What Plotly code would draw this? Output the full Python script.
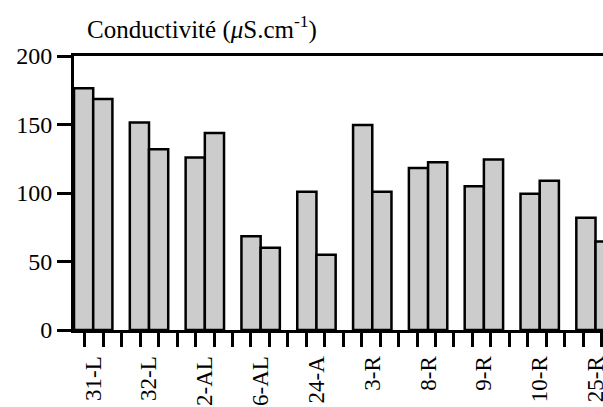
import plotly.graph_objects as go

categories = ["31-L", "32-L", "2-AL", "16-AL", "24-A", "3-R", "8-R", "9-R", "10-R", "25-R"]
series_a = [176.5, 151.5, 126, 68.4, 101, 149.6, 118.3, 105, 99.4, 82]
series_b = [168.7, 131.9, 143.8, 60.1, 55, 101, 122.4, 124.4, 109, 64.6]
y_ticks = [0, 50, 100, 150, 200]

xs = list(range(len(categories)))
bw = 0.344
FONT = "Times New Roman"
fill = "#cccccc"
line = dict(color="black", width=2.5)

fig = go.Figure()
fig.add_trace(go.Bar(x=xs, y=series_a, width=bw, offset=-bw,
                     marker=dict(color=fill, line=line), showlegend=False))
fig.add_trace(go.Bar(x=xs, y=series_b, width=bw, offset=0,
                     marker=dict(color=fill, line=line), showlegend=False))

fig.update_layout(
    width=603, height=407,
    margin=dict(l=74, r=0, t=56, b=77),
    plot_bgcolor="white", paper_bgcolor="white",
    barmode="overlay",
    xaxis=dict(
        range=[-bw, 9.134], automargin=False, ticklabeloverflow="allow",
        tickmode="array", tickvals=xs, ticktext=categories,
        tickangle=-90, ticks="outside", ticklen=14, tickcolor="rgba(0,0,0,0)",
        showline=True, linecolor="black", linewidth=3, mirror=True,
        showgrid=False, zeroline=False,
        tickfont=dict(family=FONT, size=23, color="black"),
        minor=dict(ticks="outside", tickmode="linear", tick0=-0.149, dtick=0.3306,
                   ticklen=14, tickwidth=2.5, tickcolor="black", showgrid=False),
    ),
    yaxis=dict(
        range=[0, 200], automargin=False, tickmode="array", tickvals=y_ticks,
        ticks="outside", ticklen=14, tickwidth=2.5, tickcolor="black",
        showline=True, linecolor="black", linewidth=3,
        showgrid=False, zeroline=False,
        tickfont=dict(family=FONT, size=24, color="black"),
    ),
    annotations=[dict(
        text="Conductivité (<i>μ</i>S.cm<sup>-1</sup>)",
        xref="paper", yref="paper", x=(85 - 74) / 529, y=1 + (56 - 28) / 274,
        xanchor="left", yanchor="middle", showarrow=False,
        font=dict(family=FONT, size=25, color="black"),
    )],
)

fig.write_html("out.html")
